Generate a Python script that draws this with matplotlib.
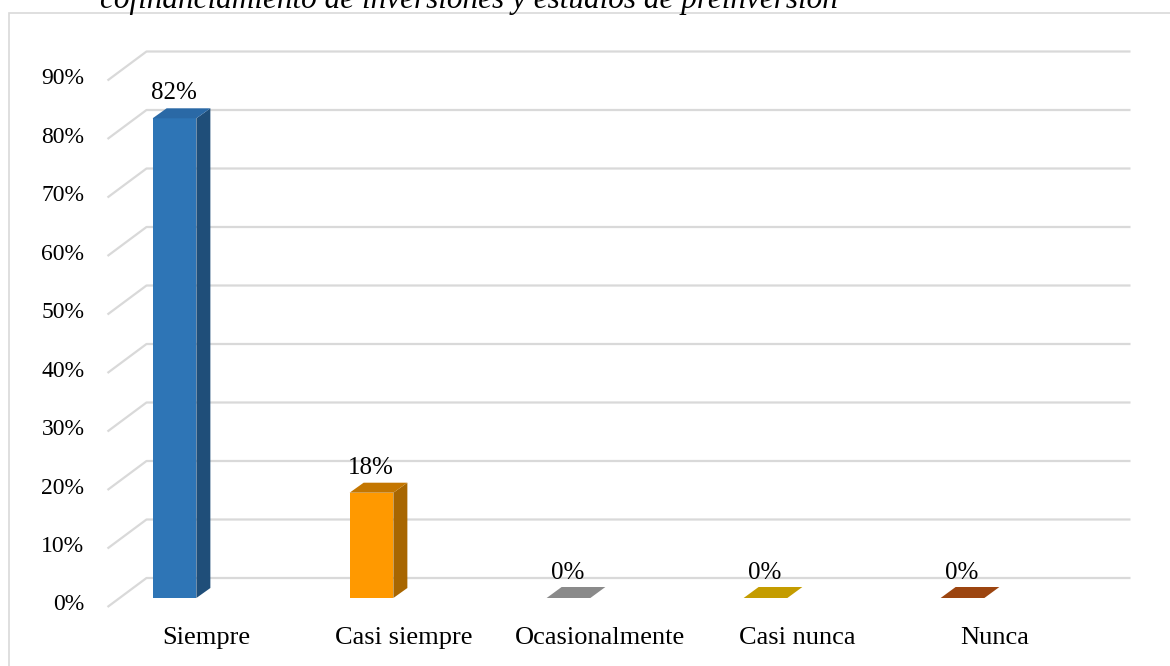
import numpy as np
import matplotlib
matplotlib.use("Agg")
import matplotlib.pyplot as plt
from matplotlib.patches import Polygon, Rectangle

# datos del grafico
categorias = ["Siempre", "Casi siempre", "Ocasionalmente", "Casi nunca", "Nunca"]
porcentajes = [82, 18, 0, 0, 0]
ticks = [0, 10, 20, 30, 40, 50, 60, 70, 80, 90]
titulo = "cofinanciamiento de inversiones y estudios de preinversión"

color_frente = ["#2E75B6", "#FF9900", "#8C8C8C", "#C9A000", "#9E480E"]
color_techo = ["#2A69A6", "#C47600", "#8A8A8A", "#C49C00", "#9C4510"]
color_lado = ["#1F4E79", "#A86600", "#6E6E6E", "#9A7A00", "#7A360A"]

plt.rcParams["font.family"] = ["Liberation Serif", "DejaVu Serif"]

fig = plt.figure(figsize=(11.7, 6.66), dpi=100)
ax = fig.add_axes([0, 0, 1, 1])

# escala: 197 px por categoria, 5.85 px por punto porcentual
PX_X = 1 / 197.0
PX_Y = 1 / 5.85
ax.set_xlim(-174.5 * PX_X, (1170 - 174.5) * PX_X)
ax.set_ylim(-68 * PX_Y, 598 * PX_Y)
ax.axis("off")

# pared del fondo (lineas de cuadricula en perspectiva)
x_frente = -67 * PX_X
x_fondo = -28 * PX_X
x_fin = 956 * PX_X
dy_frente = -9 * PX_Y
dy_fondo = 20 * PX_Y
for t in ticks:
    ax.plot([x_frente, x_fondo, x_fin], [t + dy_frente, t + dy_fondo, t + dy_fondo],
            color="#D9D9D9", lw=1.6, zorder=1, solid_capstyle="butt")
    ax.text(-90 * PX_X, t - 7 * PX_Y, f"{t}%", ha="right", va="center",
            fontsize=17, color="black")

# barras 3D
ancho = 0.222
prof_x = 14 * PX_X
prof_y = 10 * PX_Y
for i, v in enumerate(porcentajes):
    x0, x1 = i - ancho / 2, i + ancho / 2
    if v > 0:
        ax.add_patch(Polygon([[x0, 0], [x1, 0], [x1, v], [x0, v]],
                             closed=True, fc=color_frente[i], ec="none", zorder=3))
        ax.add_patch(Polygon([[x1, 0], [x1 + prof_x, prof_y], [x1 + prof_x, v + prof_y], [x1, v]],
                             closed=True, fc=color_lado[i], ec="none", zorder=3))
        techo_x, techo_y = prof_x, prof_y
    else:
        # barras en cero: solo la cara superior, un poco mas profunda
        techo_x, techo_y = 15 * PX_X, 11 * PX_Y
    ax.add_patch(Polygon([[x0, v], [x1, v], [x1 + techo_x, v + techo_y], [x0 + techo_x, v + techo_y]],
                         closed=True, fc=color_techo[i], ec="none", zorder=3))
    ax.text(i - 1 * PX_X, v + 25 * PX_Y, f"{v}%", ha="center", va="center",
            fontsize=18, color="black", zorder=4)
    ax.text(i + 32 * PX_X, -40 * PX_Y, categorias[i], ha="center", va="center",
            fontsize=19, color="black")

# marco del grafico
fig.add_artist(Rectangle((9 / 1170, -0.1), 1.1, 1.1 - 13 / 666,
                         transform=fig.transFigure, fill=False,
                         ec="#D9D9D9", lw=1.2))

# titulo (cortado en la parte superior)
fig.text(100 / 1170, 1 - 8 / 666, titulo, ha="left", va="baseline",
         fontsize=22.5, style="italic", color="black")

fig.savefig("out.png", dpi=100)
